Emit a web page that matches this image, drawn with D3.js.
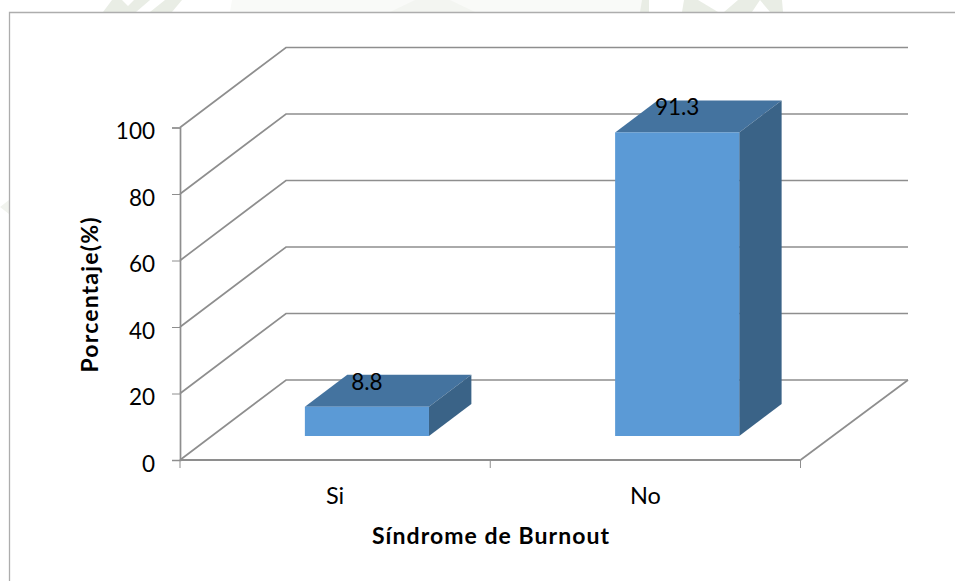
<!DOCTYPE html>
<html><head><meta charset="utf-8">
<script src="https://cdn.jsdelivr.net/npm/d3@7/dist/d3.min.js"></script>
<style>html,body{margin:0;padding:0;background:#fff}svg{display:block}text{font-family:Lato,"Open Sans",sans-serif;fill:#000}</style>
</head><body><svg id="c" width="955" height="581"></svg>
<script>
const categories = ["Si", "No"];
const values = [8.8, 91.3];
const valueLabels = ["8.8", "91.3"];
const yTicks = [0, 20, 40, 60, 80, 100];
const yTitle = "Porcentaje(%)";
const xTitle = "Síndrome de Burnout";

const svg = d3.select("#c");
const x0 = 180, x1 = 800.5, y0 = 460, y100 = 127.5;
const depthX = 106, depthY = -80;
const y = d3.scaleLinear().domain([0, 100]).range([y0, y100]);
const x = d3.scaleBand().domain(categories).range([x0, x1]).paddingInner(0).paddingOuter(0);
const grid = "#8e8e8e";

// faint watermark remnants above the frame
const wm = svg.append("g").attr("fill", "#e9ede5");
wm.append("path").attr("d", "M103,12 L112,0 L122,0 L128,6 L134,0 L150,0 L136,12 Z");
wm.append("path").attr("d", "M150,12 L165,0 L182,0 L172,12 Z");
wm.append("path").attr("d", "M230,12 L232,0 L645,0 L645,12 Z").attr("fill", "#f9faf8");
wm.append("path").attr("d", "M390,12 L415,0 L450,0 L475,12 Z").attr("fill", "#f3f5f1");
wm.append("path").attr("d", "M640,12 L642,0 L649,0 L649,12 Z");
wm.append("path").attr("d", "M682,12 L684,0 L698,0 L718,12 Z");
wm.append("path").attr("d", "M724,12 L738,0 L782,0 L783,12 L770,12 L760,0 L752,12 Z");
wm.append("path").attr("d", "M0,207 L9,200 L9,214 Z").attr("fill", "#f1f3ee");

// frame
svg.append("path").attr("d", "M9.5,581 L9.5,12.5 L955,12.5").attr("fill", "none").attr("stroke", "#adadad").attr("stroke-width", 1.3);

// gridlines, including the back edge of the floor
svg.append("g").selectAll("path").data(yTicks).join("path")
  .attr("fill", "none").attr("stroke", grid).attr("stroke-width", 1.7)
  .attr("d", d => `M${x0},${y(d)} L${x0 + depthX},${y(d) + depthY} L${x0 + depthX + (x1 - x0) + 1.5},${y(d) + depthY}`);

// floor right edge
svg.append("path").attr("fill", "none").attr("stroke", grid).attr("stroke-width", 1.7)
  .attr("d", `M${x1},${y0} L${x1 + depthX + 1.5},${y0 + depthY}`);

// axes
const yAxis = d3.axisLeft(y).tickValues(yTicks).tickSize(8).tickPadding(17);
const gy = svg.append("g").attr("transform", `translate(${x0},0)`).call(yAxis);
gy.selectAll("text").attr("font-size", 22.5).attr("dy", "0.5em");
gy.selectAll("line,path").attr("stroke", grid);
gy.select("path").attr("stroke-width", 1.7);
const xb = d3.scalePoint().domain([0, 1, 2]).range([x0, x1]);
svg.append("g").selectAll("line").data([0, 1, 2]).join("line")
  .attr("x1", d => xb(d)).attr("x2", d => xb(d)).attr("y1", y0).attr("y2", y0 + 8)
  .attr("stroke", grid);
svg.append("line").attr("x1", x0).attr("x2", x1).attr("y1", y0).attr("y2", y0).attr("stroke", grid).attr("stroke-width", 2);

// bars
const gapFront = 0.3, gapDepth = 0.4, widthFrac = 0.4;
const bars = svg.append("g").selectAll("g").data(values).join("g");
const bx = (d, i) => x(categories[i]) + x.bandwidth() * (1 - widthFrac) / 2 + depthX * gapFront;
const bw = x.bandwidth() * widthFrac;
const by = y0 + depthY * gapFront;
const dx = depthX * gapDepth, dy = depthY * gapDepth;
const hgt = d => y0 - y(d);
bars.append("path").attr("fill", "#44739f").attr("d", (d, i) => {
  const l = bx(d, i), t = by - hgt(d);
  return `M${l},${t} L${l + dx},${t + dy} L${l + bw + dx},${t + dy} L${l + bw},${t} Z`;
});
bars.append("path").attr("fill", "#3a6387").attr("d", (d, i) => {
  const l = bx(d, i) + bw, t = by - hgt(d);
  return `M${l},${t} L${l + dx},${t + dy} L${l + dx},${by + dy} L${l},${by} Z`;
});
bars.append("rect").attr("fill", "#5b9ad6")
  .attr("x", (d, i) => bx(d, i)).attr("y", d => by - hgt(d)).attr("width", bw).attr("height", d => hgt(d));

// value labels
svg.append("g").selectAll("text").data(values).join("text")
  .attr("text-anchor", "middle").attr("font-size", 22.5)
  .attr("x", (d, i) => bx(d, i) + bw / 2)
  .attr("y", d => by - hgt(d) - 17)
  .text((d, i) => valueLabels[i]);

// category labels
svg.append("g").selectAll("text").data(categories).join("text")
  .attr("text-anchor", "middle").attr("font-size", 23.5)
  .attr("x", d => x(d) + x.bandwidth() / 2).attr("y", 504).text(d => d);

// titles
svg.append("text").attr("text-anchor", "middle").attr("font-size", 23).attr("font-weight", 700)
  .attr("textLength", 237).attr("lengthAdjust", "spacing")
  .attr("x", 490.5).attr("y", 544).text(xTitle);
svg.append("text").attr("text-anchor", "middle").attr("font-size", 23).attr("font-weight", 700)
  .attr("textLength", 155).attr("lengthAdjust", "spacing")
  .attr("transform", "translate(98,295) rotate(-90)").text(yTitle);
</script></body></html>
